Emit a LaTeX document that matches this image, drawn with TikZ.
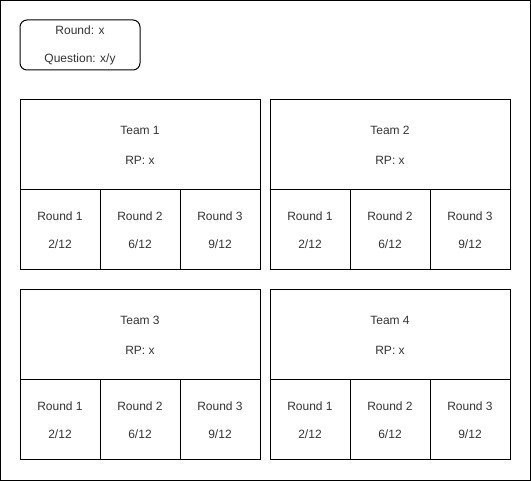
\documentclass[tikz,border=0pt]{standalone}
\usepackage{fontspec}
\setmainfont{Liberation Sans}
\begin{document}
\begin{tikzpicture}[x=1pt, y=-1pt,
    box/.style={draw=black, line width=1pt, inner sep=0pt, align=center, font=\fontsize{12}{14}\selectfont, text=black!80},
    head/.style={box, minimum width=240pt, minimum height=90pt},
    cell/.style={box, minimum width=80pt, minimum height=80pt}]
    \useasboundingbox (0, 0) rectangle (531, 481);
    %Frame
    \node[draw=black, line width=1pt, minimum width=530pt, minimum height=480pt, inner sep=0pt] at (265.5, 240.5) (frame) {};
    
    %Nodes
    \node[box, rounded corners=7pt, minimum width=120pt, minimum height=50pt] at (80, 45) (info) {Round: x\\[14pt]Question: x/y};
    
    \node[head] at (140, 145) (t1) {Team 1\\[16pt]RP: x};
    \node[cell] at (60, 230) (t1r1) {Round 1\\[14pt]2/12};
    \node[cell] at (140, 230) (t1r2) {Round 2\\[14pt]6/12};
    \node[cell] at (220, 230) (t1r3) {Round 3\\[14pt]9/12};
    
    \node[head] at (390, 145) (t2) {Team 2\\[16pt]RP: x};
    \node[cell] at (310, 230) (t2r1) {Round 1\\[14pt]2/12};
    \node[cell] at (390, 230) (t2r2) {Round 2\\[14pt]6/12};
    \node[cell] at (470, 230) (t2r3) {Round 3\\[14pt]9/12};
    
    \node[head] at (140, 335) (t3) {Team 3\\[16pt]RP: x};
    \node[cell] at (60, 420) (t3r1) {Round 1\\[14pt]2/12};
    \node[cell] at (140, 420) (t3r2) {Round 2\\[14pt]6/12};
    \node[cell] at (220, 420) (t3r3) {Round 3\\[14pt]9/12};
    
    \node[head] at (390, 335) (t4) {Team 4\\[16pt]RP: x};
    \node[cell] at (310, 420) (t4r1) {Round 1\\[14pt]2/12};
    \node[cell] at (390, 420) (t4r2) {Round 2\\[14pt]6/12};
    \node[cell] at (470, 420) (t4r3) {Round 3\\[14pt]9/12};
    
\end{tikzpicture}
\end{document}
